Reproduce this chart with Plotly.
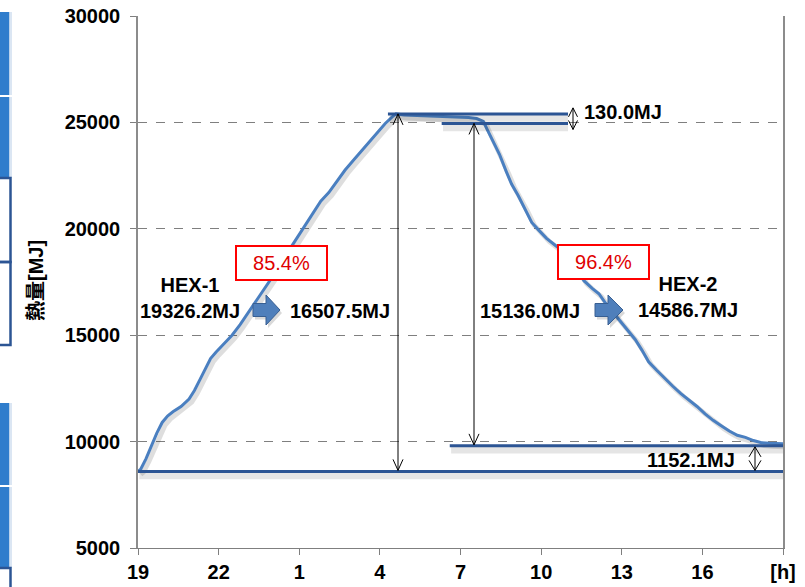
import plotly.graph_objects as go

# ---------------- data ----------------
hours = [19.0, 19.1, 19.3, 19.5, 19.7, 19.9, 20.1, 20.3, 20.6, 20.9, 21.1, 21.3, 21.5, 21.7, 21.9,
         22.2, 22.5, 22.8, 23.1, 23.4, 23.7, 24.0, 24.3, 24.6, 24.9, 25.2, 25.5, 25.8, 26.1, 26.4,
         26.7, 27.0, 27.3, 27.6, 27.9, 28.2, 28.45, 28.6,
         28.9, 29.3, 29.7, 30.1, 30.5, 30.9, 31.3, 31.6, 31.85,
         32.0, 32.2, 32.45, 32.7, 32.9, 33.15, 33.4, 33.65, 33.9, 34.2, 34.5, 34.8, 35.1, 35.35,
         35.6, 35.9, 36.15, 36.4, 36.7, 36.95, 37.2, 37.5, 37.75, 38.0, 38.3, 38.6, 38.9, 39.2,
         39.5, 39.8, 40.1, 40.4, 40.7, 41.0, 41.3, 41.6, 41.9, 42.2, 42.5, 42.8, 43.0]
heat_mj = [8600, 8700, 9200, 9800, 10400, 10900, 11200, 11400, 11650, 12000, 12400, 12900, 13400, 13900, 14200,
           14600, 15000, 15500, 16050, 16600, 17150, 17700, 18300, 18950, 19550, 20150, 20750, 21300, 21700, 22250,
           22750, 23200, 23650, 24050, 24500, 24950, 25250, 25400,
           25350, 25330, 25310, 25300, 25280, 25250, 25230, 25180, 25050,
           24650, 24150, 23500, 22700, 22100, 21550, 20950, 20300, 19950, 19550, 19250, 18950, 18550, 18050,
           17550, 17200, 16950, 16500, 16050, 15650, 15300, 14800, 14300, 13750, 13350, 12950, 12600, 12250,
           11950, 11650, 11300, 11000, 10750, 10500, 10300, 10200, 10050, 9950, 9920, 9900, 9900]

# reference levels (MJ) and their hour spans
level_values = [25400, 24950, 9800, 8600]
level_start = [28.3, 30.3, 30.6, 19.0]
level_end = [35.0, 35.0, 43.0, 43.0]

tick_vals = [19, 22, 25, 28, 31, 34, 37, 40, 43]
tick_text = ["19", "22", "1", "4", "7", "10", "13", "16", "[h]"]
y_tick_vals = [5000, 10000, 15000, 20000, 25000, 30000]

hex1_label = "HEX-1<br>19326.2MJ"
hex1_out = "16507.5MJ"
hex2_in = "15136.0MJ"
hex2_label = "HEX-2<br>14586.7MJ"
eff_labels = ["85.4%", "96.4%"]
diff_top = "130.0MJ"
diff_bottom = "1152.1MJ"
y_title = "熱量[MJ]"

# ---------------- geometry helpers ----------------
W, H = 805, 587
L, R, T, B = 138, 22, 16, 39
X0, X1 = 19, 43
Y0, Y1 = 5000, 30000
PW, PH = W - L - R, H - T - B


def px2x(px):
    return X0 + (px - L) / PW * (X1 - X0)


def py2y(py):
    return Y1 - (py - T) / PH * (Y1 - Y0)


def y2py(v):
    return T + (Y1 - v) / (Y1 - Y0) * PH


def ppx(px):
    return (px - L) / PW


def ppy(py):
    return (H - B - py) / PH


FONT = "Liberation Sans, Arial, Noto Sans CJK JP"
CURVE = "#4a7fc0"
DARK = "#2c5594"

fig = go.Figure()

# curve shadow + curve
fig.add_trace(go.Scatter(x=[h + 0.1 for h in hours], y=[v - 140 for v in heat_mj], mode="lines",
                         line=dict(color="rgba(0,0,0,0.13)", width=5), hoverinfo="skip", showlegend=False))
fig.add_trace(go.Scatter(x=hours, y=heat_mj, mode="lines",
                         line=dict(color=CURVE, width=3), showlegend=False))

# reference level lines with shadows
for v, a, b in zip(level_values, level_start, level_end):
    fig.add_trace(go.Scatter(x=[a + 0.05, b], y=[v - 200, v - 200], mode="lines",
                             line=dict(color="rgba(0,0,0,0.10)", width=7), hoverinfo="skip", showlegend=False))
    fig.add_trace(go.Scatter(x=[a, b], y=[v, v], mode="lines",
                             line=dict(color=DARK, width=3), showlegend=False))

annotations = []
shapes = []


def pth(points_groups):
    s = ""
    for grp in points_groups:
        s += "M " + " L ".join(f"{px2x(x)},{py2y(y)}" for x, y in grp) + " "
    return s


def dbl_arrow(xpx, top_py, bot_py, hw, hl):
    groups = [
        [(xpx, top_py), (xpx, bot_py)],
        [(xpx - hw, top_py + hl), (xpx, top_py), (xpx + hw, top_py + hl)],
        [(xpx - hw, bot_py - hl), (xpx, bot_py), (xpx + hw, bot_py - hl)],
    ]
    shapes.append(dict(type="path", xref="x", yref="y", path=pth(groups),
                       line=dict(color="#000000", width=1)))


dbl_arrow(398, y2py(level_values[0]), y2py(level_values[3]) - 1, 5, 11)
dbl_arrow(474, y2py(level_values[1]), y2py(level_values[2]) - 1, 5, 11)
dbl_arrow(573, y2py(level_values[0]) - 6, y2py(level_values[1]) + 6, 4.5, 9)
dbl_arrow(755, y2py(level_values[2]) + 1, y2py(level_values[3]) - 1, 6, 10)

TXT = dict(family=FONT, size=20, color="#000000", weight="bold")

annotations += [
    dict(x=px2x(190), y=py2y(298), text=hex1_label, showarrow=False, font=TXT,
         xanchor="center", yanchor="middle", align="center"),
    dict(x=px2x(288), y=py2y(311), text=hex1_out, showarrow=False, font=TXT,
         xanchor="left", yanchor="middle"),
    dict(x=px2x(582), y=py2y(311), text=hex2_in, showarrow=False, font=TXT,
         xanchor="right", yanchor="middle"),
    dict(x=px2x(688), y=py2y(297), text=hex2_label, showarrow=False, font=TXT,
         xanchor="center", yanchor="middle", align="center"),
    dict(x=px2x(582), y=py2y(112), text=diff_top, showarrow=False, font=TXT,
         xanchor="left", yanchor="middle"),
    dict(x=px2x(737), y=py2y(460), text=diff_bottom, showarrow=False, font=TXT,
         xanchor="right", yanchor="middle"),
]

for lbl, cx, cy in zip(eff_labels, [281, 603], [263, 262]):
    annotations.append(dict(x=px2x(cx), y=py2y(cy), text=lbl, showarrow=False,
                            font=dict(family=FONT, size=20, color="#e00000"),
                            bgcolor="#ffffff", bordercolor="#ff0000", borderwidth=2, borderpad=1,
                            width=87, height=30, xanchor="center", yanchor="middle"))

# y axis title
annotations.append(dict(xref="paper", yref="paper", x=ppx(36), y=ppy(281), text=y_title, textangle=-90,
                        showarrow=False, font=dict(family=FONT, size=20, color="#000000", weight="bold"),
                        xanchor="center", yanchor="middle"))


# block arrows
def block_arrow(x0, xm, xt, yc, sh, hh):
    pts = [(x0, yc - sh), (xm, yc - sh), (xm, yc - hh), (xt, yc), (xm, yc + hh), (xm, yc + sh), (x0, yc + sh)]
    sp = [(x + 2, y + 3) for x, y in pts]
    shapes.append(dict(type="path", xref="x", yref="y", path=pth([sp]) + "Z", fillcolor="rgba(0,0,0,0.15)",
                       line=dict(width=0)))
    shapes.append(dict(type="path", xref="x", yref="y", path=pth([pts]) + "Z", fillcolor="#4f7fbb",
                       line=dict(color="#385f92", width=1)))


block_arrow(253, 266, 280, 310, 6.5, 15)
block_arrow(595, 608, 623, 310, 6.5, 15)

# left slide decorations (paper coords)
for y_top, y_bot in [(12, 95), (97, 178), (403, 485), (487, 568)]:
    shapes.append(dict(type="rect", xref="paper", yref="paper", x0=ppx(-2), x1=ppx(9.5),
                       y0=ppy(y_bot), y1=ppy(y_top), fillcolor="#2f7dcc", line=dict(width=0), layer="above"))
    shapes.append(dict(type="rect", xref="paper", yref="paper", x0=ppx(9.5), x1=ppx(12),
                       y0=ppy(y_bot), y1=ppy(y_top), fillcolor="#dbe6f3", line=dict(width=0), layer="above"))
for y_top, y_bot in [(178, 262), (262, 345), (568, 600)]:
    shapes.append(dict(type="rect", xref="paper", yref="paper", x0=ppx(-4), x1=ppx(10.5),
                       y0=ppy(y_bot), y1=ppy(y_top), fillcolor="rgba(0,0,0,0)",
                       line=dict(color="#2c5594", width=2.5), layer="above"))

TICKFONT = dict(family=FONT, size=20, color="#000000", weight="bold")

fig.update_layout(
    width=W, height=H,
    margin=dict(l=L, r=R, t=T, b=B, pad=0, autoexpand=False),
    paper_bgcolor="#ffffff", plot_bgcolor="#ffffff",
    showlegend=False,
    annotations=annotations,
    shapes=shapes,
    xaxis=dict(range=[X0, X1], tickvals=tick_vals, ticktext=tick_text, showgrid=False, zeroline=False,
               showline=True, linecolor="#7f7f7f", linewidth=1, ticks="outside", ticklen=6,
               tickcolor="#7f7f7f", tickfont=TICKFONT, ticklabelstandoff=0, automargin=False),
    yaxis=dict(range=[Y0, Y1], tickvals=y_tick_vals, ticktext=[str(v) for v in y_tick_vals],
               showgrid=True, gridcolor="#7f7f7f", griddash="dash", gridwidth=1, zeroline=False,
               showline=True, mirror=True, linecolor="#8c8c8c", linewidth=1.5, ticks="outside", ticklen=6,
               tickcolor="#7f7f7f", tickfont=TICKFONT, ticklabelstandoff=6, automargin=False),
)

fig.write_html("out.html")
